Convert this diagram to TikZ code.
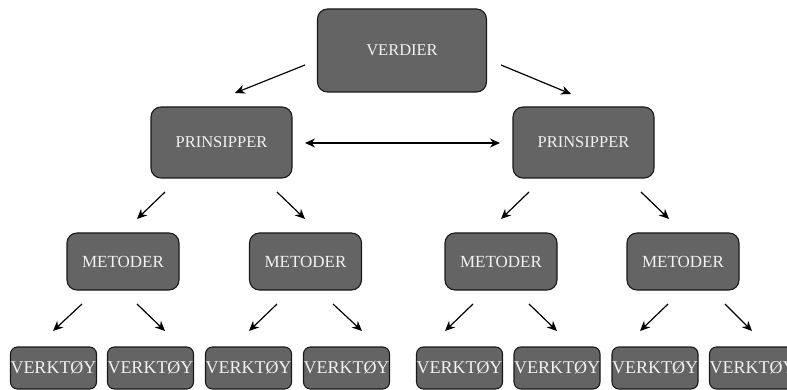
\documentclass[tikz,border=0pt]{standalone}
\usepackage{fontspec}
\setmainfont{Liberation Serif}
\usetikzlibrary{arrows.meta}
\definecolor{boxfill}{HTML}{646464}
\definecolor{boxtext}{HTML}{F2F2F2}
\tikzset{
  box/.style={draw=black!90, line width=1.1pt, fill=boxfill, text=boxtext,
    rounded corners=10pt, inner sep=0pt, anchor=center},
  topbox/.style={box, minimum width=169pt, minimum height=83pt, font=\fontsize{16.5}{18}\selectfont},
  prbox/.style={box, minimum width=141pt, minimum height=71pt, font=\fontsize{16.5}{18}\selectfont},
  mebox/.style={box, minimum width=112pt, minimum height=57pt, font=\fontsize{17}{19}\selectfont},
  tobox/.style={box, rounded corners=7pt, minimum width=85pt, minimum height=42pt, font=\fontsize{18}{20}\selectfont},
  arr/.style={-{Stealth[length=10pt,width=9pt]}, line width=1.2pt, black},
  darr/.style={{Stealth[length=10pt,width=9pt]}-{Stealth[length=10pt,width=9pt]}, line width=1.2pt, black}
}
\begin{document}
\begin{tikzpicture}[x=1pt,y=-1pt]
\useasboundingbox (0,0) rectangle (787,390);

% top level
\node[topbox] (verdier) at (402,50.5) {VERDIER};

% principles
\node[prbox] (prL) at (221.5,142.5) {PRINSIPPER};
\node[prbox] (prR) at (583.5,142.5) {PRINSIPPER};

% methods
\node[mebox] (me1) at (123,261.5) {METODER};
\node[mebox] (me2) at (305.5,261.5) {METODER};
\node[mebox] (me3) at (501,261.5) {METODER};
\node[mebox] (me4) at (683,261.5) {METODER};

% tools
\node[tobox] (to1) at (53.5,368) {VERKTØY};
\node[tobox] (to2) at (150.5,368) {VERKTØY};
\node[tobox] (to3) at (248.5,368) {VERKTØY};
\node[tobox] (to4) at (346.5,368) {VERKTØY};
\node[tobox] (to5) at (459.5,368) {VERKTØY};
\node[tobox] (to6) at (557,368) {VERKTØY};
\node[tobox] (to7) at (655,368) {VERKTØY};
\node[tobox] (to8) at (752.5,368) {VERKTØY};

% arrow end points
\coordinate (vLs) at (305,65);  \coordinate (vLe) at (235,93);
\coordinate (vRs) at (501,65);  \coordinate (vRe) at (571,94);
\coordinate (dS) at (305,143);  \coordinate (dE) at (500,143);
\coordinate (p1s) at (165,192); \coordinate (p1e) at (137,219);
\coordinate (p2s) at (277,192); \coordinate (p2e) at (305,219);
\coordinate (p3s) at (529,192); \coordinate (p3e) at (501,219);
\coordinate (p4s) at (641,192); \coordinate (p4e) at (669,219);
\coordinate (m1s) at (82,304);  \coordinate (m1e) at (53,331);
\coordinate (m2s) at (137,304); \coordinate (m2e) at (165,331);
\coordinate (m3s) at (277,304); \coordinate (m3e) at (249,331);
\coordinate (m4s) at (333,304); \coordinate (m4e) at (362,331);
\coordinate (m5s) at (473,304); \coordinate (m5e) at (445,331);
\coordinate (m6s) at (529,304); \coordinate (m6e) at (557,331);
\coordinate (m7s) at (668,304); \coordinate (m7e) at (640,331);
\coordinate (m8s) at (725,304); \coordinate (m8e) at (752,331);

\draw[arr] (vLs) -- (vLe);
\draw[arr] (vRs) -- (vRe);
\draw[darr] (dS) -- (dE);
\foreach \i in {1,...,4} \draw[arr] (p\i s) -- (p\i e);
\foreach \i in {1,...,8} \draw[arr] (m\i s) -- (m\i e);
\end{tikzpicture}
\end{document}
